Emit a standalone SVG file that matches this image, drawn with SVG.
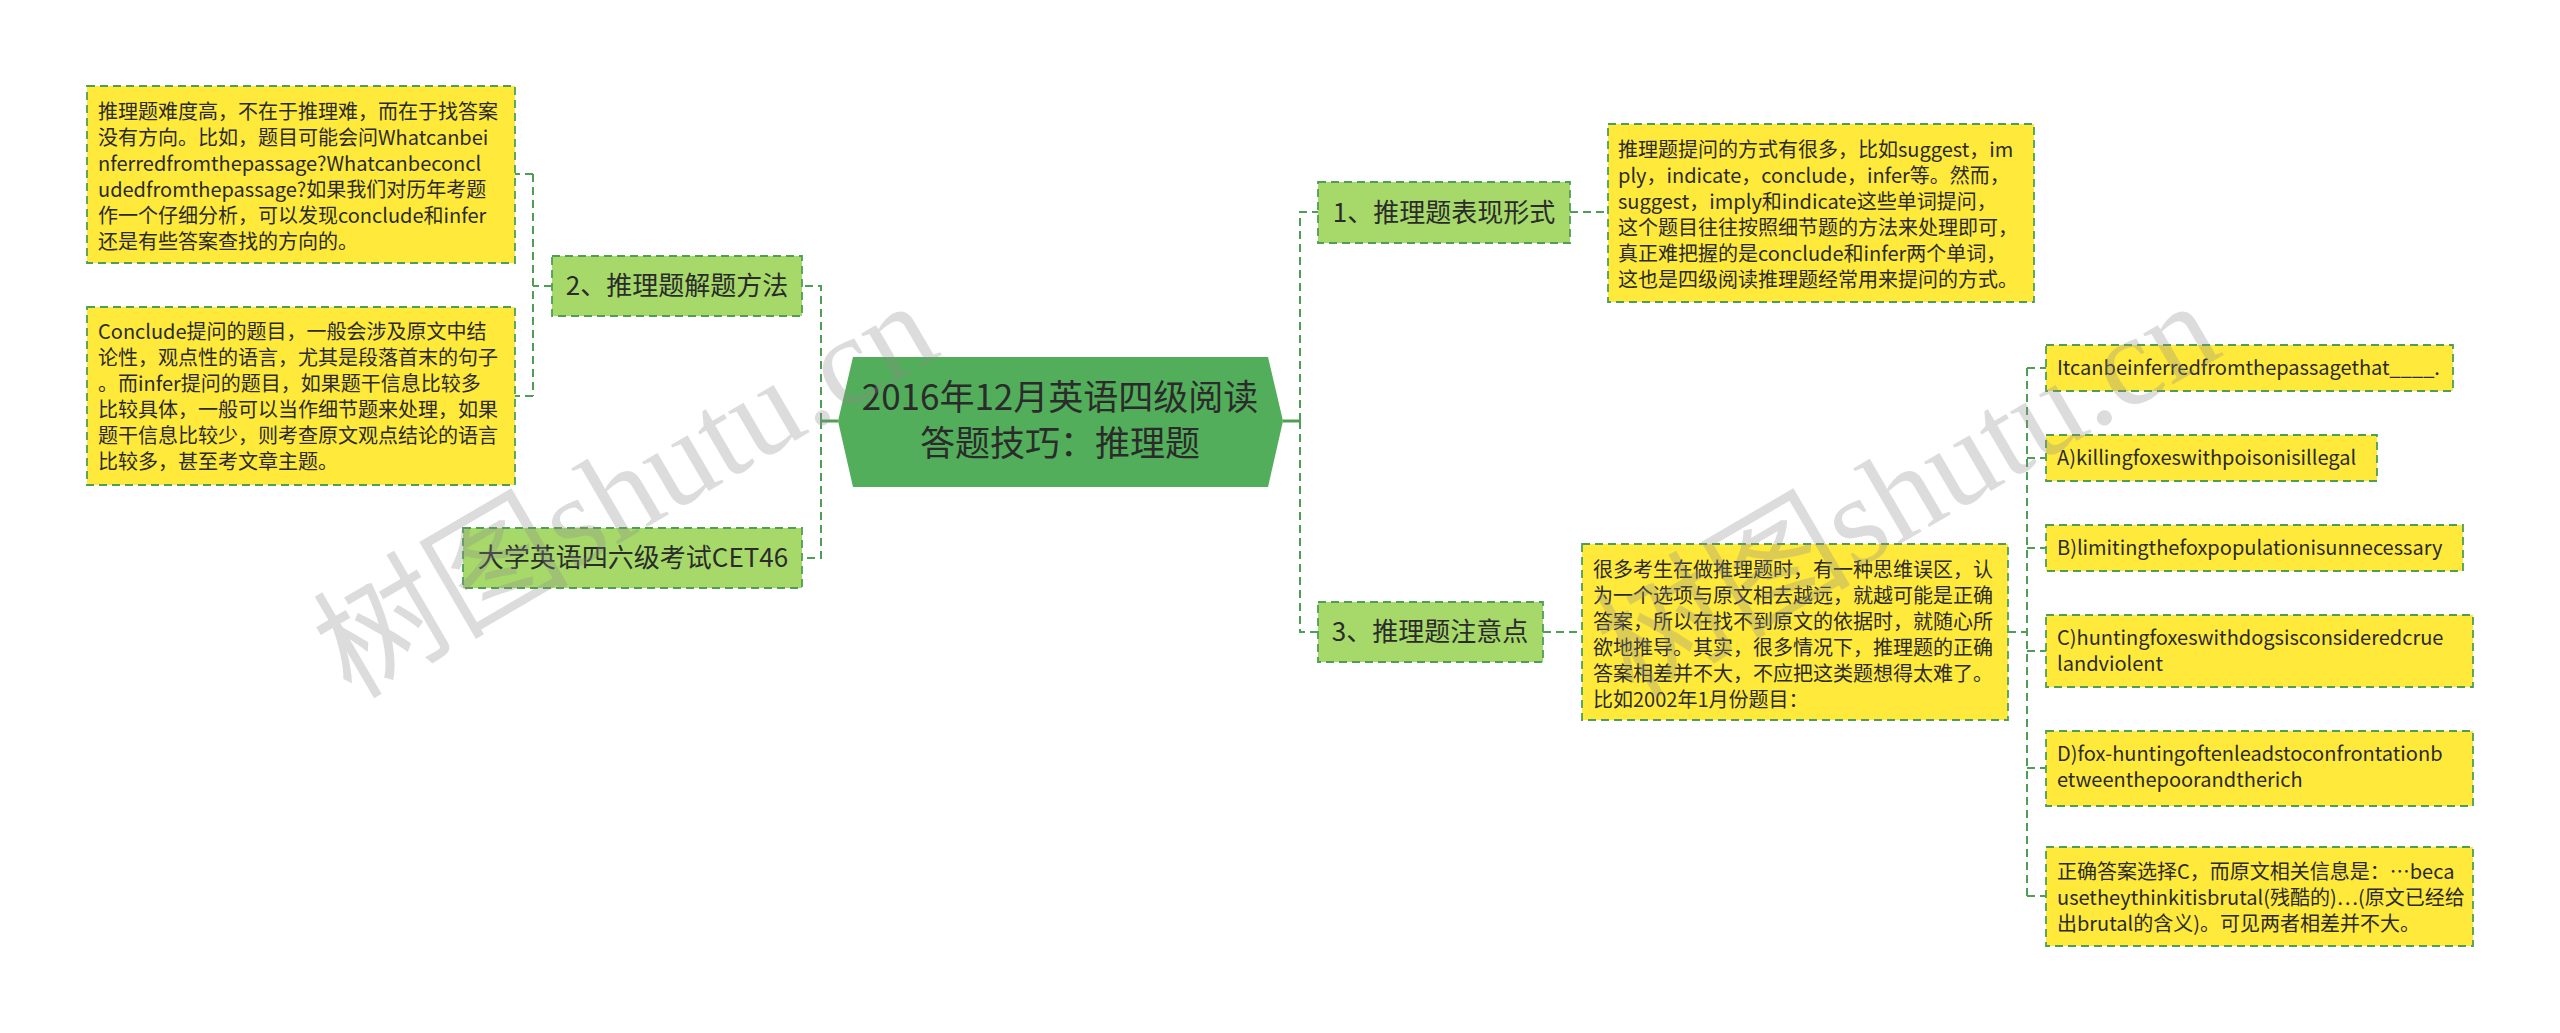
<svg xmlns="http://www.w3.org/2000/svg" width="2560" height="1033" viewBox="0 0 2560 1033">
<style>
text{font-family:"Noto Sans CJK SC","Microsoft YaHei",sans-serif;fill:#2b2b2b}
.d{fill:#ffe93b;stroke:#4e9f55;stroke-width:1.8;stroke-dasharray:8 5}
.l1{fill:#a6d96a;stroke:#4e9f55;stroke-width:1.8;stroke-dasharray:8 5}
.t20{font-size:20px}
.t26{font-size:26px}
.c{fill:none;stroke:#4e9f55;stroke-width:2;stroke-dasharray:8 5}
.s{fill:none;stroke:#4e9f55;stroke-width:3}
.wm{font-family:"Liberation Serif","Noto Sans CJK SC",serif;font-size:128px;fill:#8c8c8c;fill-opacity:0.3}
</style>
<rect width="2560" height="1033" fill="#ffffff"/>
<g id="connectors">
<path class="s" d="M838 421H821"/>
<path class="c" d="M821 421V286H802M821 421V558H802"/>
<path class="s" d="M1283 421H1300"/>
<path class="c" d="M1300 421V212H1318M1300 421V632H1318"/>
<path class="c" d="M1570 212H1608"/>
<path class="c" d="M1543 632H1582"/>
<path class="c" d="M552 286H533M533 174V396M533 174H515M533 396H515"/>
<path class="c" d="M2008 632H2027M2027 368V896M2027 368H2046M2027 458H2046M2027 548H2046M2027 651H2046M2027 768H2046M2027 896H2046"/>
</g>
<g id="center">
<polygon points="838,421 853,357 1268,357 1283,421 1268,487 853,487" fill="#52ae5a"/>
<text x="1060" y="410" font-size="35" text-anchor="middle">2016年12月英语四级阅读</text>
<text x="1060" y="456" font-size="35" text-anchor="middle">答题技巧：推理题</text>
</g>
<g id="n2">
<rect class="l1" x="552" y="256" width="250" height="60"/>
<text class="t26" x="677" y="295" text-anchor="middle">2、推理题解题方法</text>
</g>
<g id="n2a">
<rect class="d" x="87" y="86" width="428" height="177"/>
<text class="t20" x="98"><tspan x="98" y="119">推理题难度高，不在于推理难，而在于找答案</tspan><tspan x="98" y="145">没有方向。比如，题目可能会问Whatcanbei</tspan><tspan x="98" y="171">nferredfromthepassage?Whatcanbeconcl</tspan><tspan x="98" y="197">udedfromthepassage?如果我们对历年考题</tspan><tspan x="98" y="223">作一个仔细分析，可以发现conclude和infer</tspan><tspan x="98" y="249">还是有些答案查找的方向的。</tspan></text>
</g>
<g id="n2b">
<rect class="d" x="87" y="307" width="428" height="178"/>
<text class="t20" x="98"><tspan x="98" y="339">Conclude提问的题目，一般会涉及原文中结</tspan><tspan x="98" y="365">论性，观点性的语言，尤其是段落首末的句子</tspan><tspan x="98" y="391">。而infer提问的题目，如果题干信息比较多</tspan><tspan x="98" y="417">比较具体，一般可以当作细节题来处理，如果</tspan><tspan x="98" y="443">题干信息比较少，则考查原文观点结论的语言</tspan><tspan x="98" y="469">比较多，甚至考文章主题。</tspan></text>
</g>
<g id="cet">
<rect class="l1" x="463" y="528" width="339" height="60"/>
<text class="t26" x="633" y="567" text-anchor="middle">大学英语四六级考试CET46</text>
</g>
<g id="n1">
<rect class="l1" x="1318" y="182" width="252" height="61"/>
<text class="t26" x="1444" y="222" text-anchor="middle">1、推理题表现形式</text>
</g>
<g id="n1a">
<rect class="d" x="1608" y="124" width="426" height="178"/>
<text class="t20" x="1618"><tspan x="1618" y="157">推理题提问的方式有很多，比如suggest，im</tspan><tspan x="1618" y="183">ply，indicate，conclude，infer等。然而，</tspan><tspan x="1618" y="209">suggest，imply和indicate这些单词提问，</tspan><tspan x="1618" y="235">这个题目往往按照细节题的方法来处理即可，</tspan><tspan x="1618" y="261">真正难把握的是conclude和infer两个单词，</tspan><tspan x="1618" y="287">这也是四级阅读推理题经常用来提问的方式。</tspan></text>
</g>
<g id="n3">
<rect class="l1" x="1318" y="602" width="225" height="60"/>
<text class="t26" x="1430" y="641" text-anchor="middle">3、推理题注意点</text>
</g>
<g id="n3a">
<rect class="d" x="1582" y="544" width="426" height="176"/>
<text class="t20" x="1593"><tspan x="1593" y="577">很多考生在做推理题时，有一种思维误区，认</tspan><tspan x="1593" y="603">为一个选项与原文相去越远，就越可能是正确</tspan><tspan x="1593" y="629">答案，所以在找不到原文的依据时，就随心所</tspan><tspan x="1593" y="655">欲地推导。其实，很多情况下，推理题的正确</tspan><tspan x="1593" y="681">答案相差并不大，不应把这类题想得太难了。</tspan><tspan x="1593" y="707">比如2002年1月份题目：</tspan></text>
</g>
<g id="q">
<rect class="d" x="2046" y="345" width="407" height="46"/>
<text class="t20" x="2057" y="375">Itcanbeinferredfromthepassagethat____.</text>
</g>
<g id="qa">
<rect class="d" x="2046" y="435" width="331" height="46"/>
<text class="t20" x="2057" y="465">A)killingfoxeswithpoisonisillegal</text>
</g>
<g id="qb">
<rect class="d" x="2046" y="525" width="417" height="46"/>
<text class="t20" x="2057" y="555">B)limitingthefoxpopulationisunnecessary</text>
</g>
<g id="qc">
<rect class="d" x="2046" y="615" width="427" height="72"/>
<text class="t20" x="2057"><tspan x="2057" y="645">C)huntingfoxeswithdogsisconsideredcrue</tspan><tspan x="2057" y="671">landviolent</tspan></text>
</g>
<g id="qd">
<rect class="d" x="2046" y="731" width="427" height="75"/>
<text class="t20" x="2057"><tspan x="2057" y="761">D)fox-huntingoftenleadstoconfrontationb</tspan><tspan x="2057" y="787">etweenthepoorandtherich</tspan></text>
</g>
<g id="ans">
<rect class="d" x="2046" y="847" width="427" height="99"/>
<text class="t20" x="2057"><tspan x="2057" y="879">正确答案选择C，而原文相关信息是：…beca</tspan><tspan x="2057" y="905">usetheythinkitisbrutal(残酷的)…(原文已经给</tspan><tspan x="2057" y="931">出brutal的含义)。可见两者相差并不大。</tspan></text>
</g>
<g id="watermark">
<text class="wm" transform="translate(351,700) rotate(-30.3)">树图shutu.cn</text>
<text class="wm" transform="translate(1633,700) rotate(-30.3)">树图shutu.cn</text>
</g>
</svg>
